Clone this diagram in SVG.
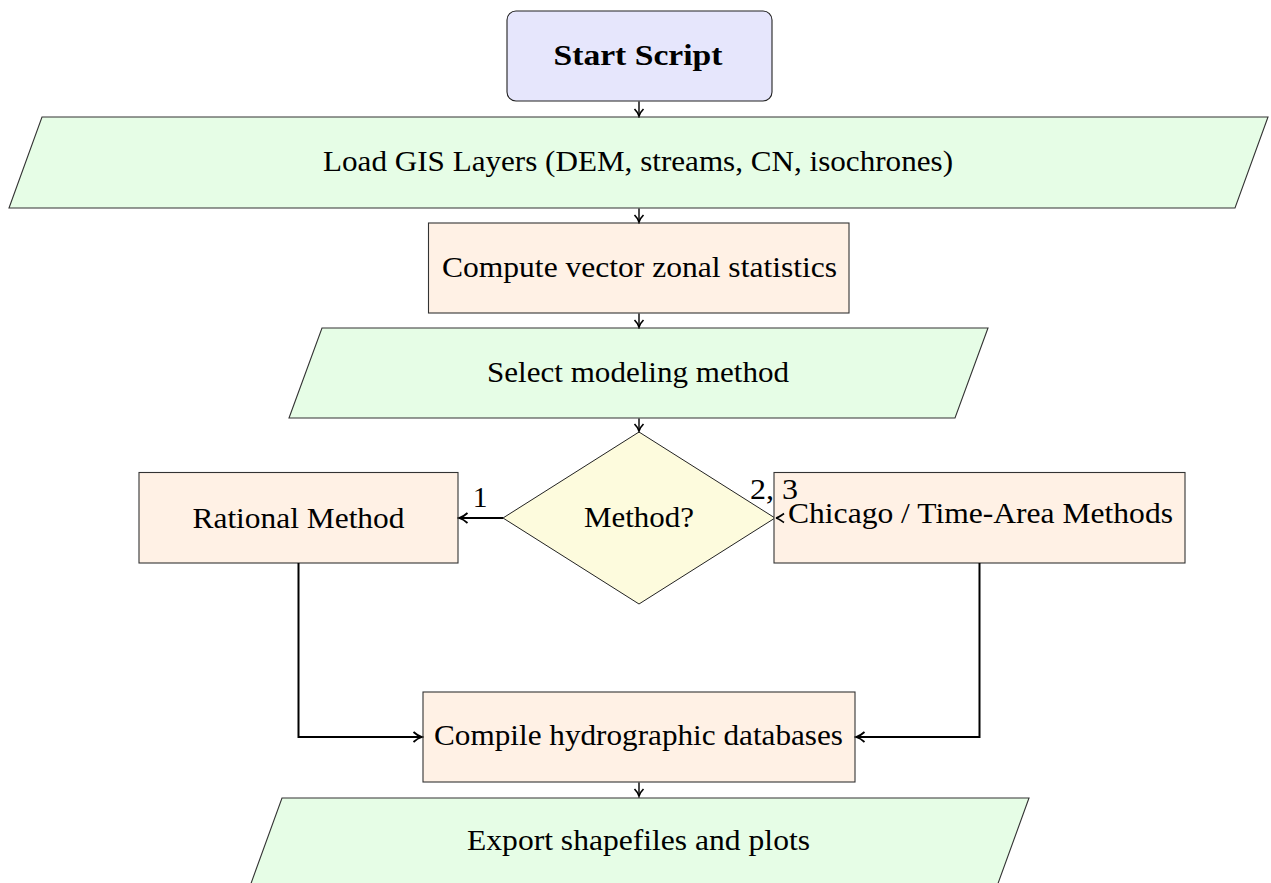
<svg xmlns="http://www.w3.org/2000/svg" width="1271" height="883" viewBox="0 0 1271 883">
<style>
.t{font-family:"Liberation Serif","Times New Roman",serif;font-size:29.5px;fill:#000;text-anchor:middle}
.b{font-weight:bold}
.start{fill:#e6e6fc;stroke:#222;stroke-width:1.1}
.io{fill:#e6fde6;stroke:#333;stroke-width:1.1}
.proc{fill:#fff1e5;stroke:#333;stroke-width:1.1}
.dec{fill:#fdfbdd;stroke:#222;stroke-width:1}
.c{fill:none;stroke:#000;stroke-width:1.4}
.ct{fill:none;stroke:#000;stroke-width:2}
</style>
<defs>
<marker id="a" markerUnits="userSpaceOnUse" viewBox="-10 -6 12 12" refX="0" refY="0" markerWidth="12" markerHeight="12" orient="auto">
<path d="M-7,-4.5 C-4.5,-2 -2,-0.6 0,0 C-2,0.6 -4.5,2 -7,4.5" fill="none" stroke="#000" stroke-width="1.7"/>
</marker>
<marker id="ab" markerUnits="userSpaceOnUse" viewBox="-12 -7 14 14" refX="0" refY="0" markerWidth="14" markerHeight="14" orient="auto">
<path d="M-8.5,-5 C-5.5,-2.2 -2.5,-0.7 0,0 C-2.5,0.7 -5.5,2.2 -8.5,5" fill="none" stroke="#000" stroke-width="1.8"/>
</marker>
</defs>
<g id="start">
<rect class="start" x="507" y="11" width="265" height="90" rx="9"/>
<text class="t b" x="638" y="65" textLength="169" lengthAdjust="spacingAndGlyphs">Start Script</text>
</g>
<g id="load">
<polygon class="io" points="42,117 1268,117 1235,208 9,208"/>
<text class="t" x="638" y="171" textLength="630" lengthAdjust="spacingAndGlyphs">Load GIS Layers (DEM, streams, CN, isochrones)</text>
</g>
<g id="compute">
<rect class="proc" x="428.5" y="223" width="420.5" height="90"/>
<text class="t" x="639.5" y="277" textLength="395" lengthAdjust="spacingAndGlyphs">Compute vector zonal statistics</text>
</g>
<g id="select">
<polygon class="io" points="322,328 988,328 955,418 289,418"/>
<text class="t" x="638" y="382" textLength="302" lengthAdjust="spacingAndGlyphs">Select modeling method</text>
</g>
<g id="decision">
<polygon class="dec" points="639,432 775,518 639,604 503,518"/>
<text class="t" x="639" y="527" textLength="110" lengthAdjust="spacingAndGlyphs">Method?</text>
</g>
<g id="rational">
<rect class="proc" x="139" y="472.5" width="319" height="90.5"/>
<text class="t" x="298.5" y="528" textLength="212" lengthAdjust="spacingAndGlyphs">Rational Method</text>
</g>
<g id="chicago">
<rect class="proc" x="774" y="472.5" width="411" height="90.5"/>
<text class="t" x="980.5" y="523" textLength="385" lengthAdjust="spacingAndGlyphs">Chicago / Time-Area Methods</text>
</g>
<g id="compile">
<rect class="proc" x="423" y="692" width="432" height="90"/>
<text class="t" x="638.5" y="745" textLength="409" lengthAdjust="spacingAndGlyphs">Compile hydrographic databases</text>
</g>
<g id="export">
<polygon class="io" points="282,798 1029,798 996,889 249,889"/>
<text class="t" x="638.5" y="850" textLength="343" lengthAdjust="spacingAndGlyphs">Export shapefiles and plots</text>
</g>
<g id="connectors">
<line class="c" x1="639" y1="101.5" x2="639" y2="116" marker-end="url(#a)"/>
<line class="c" x1="639" y1="208.5" x2="639" y2="222" marker-end="url(#a)"/>
<line class="c" x1="639" y1="313.5" x2="639" y2="327" marker-end="url(#a)"/>
<line class="c" x1="639" y1="418.5" x2="639" y2="431" marker-end="url(#a)"/>
<line class="ct" x1="503" y1="518" x2="459" y2="518" marker-end="url(#ab)"/>
<text class="t" x="480" y="507">1</text>
<path d="M784,513.5 C781,515.5 778.5,517.4 776,518 C778.5,518.6 781,520.5 784,522.5" fill="none" stroke="#000" stroke-width="1.7"/>
<text class="t" x="774" y="499" textLength="48" lengthAdjust="spacingAndGlyphs">2, 3</text>
<polyline class="ct" points="298.5,563 298.5,737 422,737" marker-end="url(#ab)"/>
<polyline class="ct" points="979.5,563 979.5,737 856,737" marker-end="url(#ab)"/>
<line class="c" x1="639" y1="782.5" x2="639" y2="796" marker-end="url(#a)"/>
</g>
</svg>
